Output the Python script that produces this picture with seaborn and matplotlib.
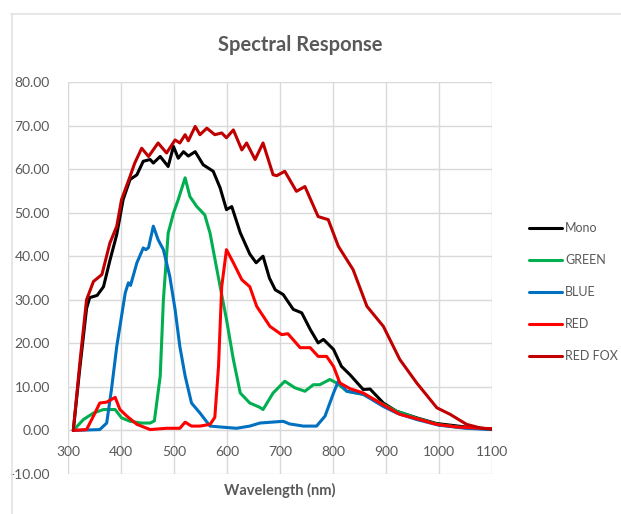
import numpy as np
import pandas as pd
import matplotlib
matplotlib.use("Agg")
import matplotlib.pyplot as plt
from matplotlib.lines import Line2D
import seaborn as sns

series_names = ["Mono", "GREEN", "BLUE", "RED", "RED FOX"]
series_colors = ["#000000", "#00B050", "#0070C0", "#FF0000", "#C00000"]

mono_x = [310, 322, 335, 341, 355, 367, 379, 392, 404, 417, 430, 442, 455, 461, 474, 489, 499, 508, 518, 527, 540, 555, 574, 587, 599, 609, 625, 643, 655, 668, 680, 691, 706, 725, 741, 757, 772, 782, 801, 816, 832, 857, 870, 895, 920, 958, 995, 1050, 1100]
mono_y = [0, 14, 28, 30.5, 31, 33, 39, 45, 53, 57.6, 58.7, 61.8, 62.2, 61.4, 62.9, 60.6, 65.2, 62.5, 64, 63, 64, 61, 59.5, 55.7, 50.7, 51.4, 45.4, 40.5, 38.5, 40, 35, 32.3, 31.2, 27.8, 27, 23.2, 20.1, 20.9, 18.6, 14.7, 12.8, 9.4, 9.5, 6.3, 4.4, 2.9, 1.6, 0.8, 0.3]

green_x = [310, 329, 348, 367, 389, 401, 417, 439, 455, 463, 474, 480, 489, 499, 508, 521, 530, 543, 558, 568, 581, 599, 612, 625, 643, 662, 668, 687, 709, 728, 747, 763, 775, 794, 807, 826, 857, 895, 920, 958, 1000, 1050, 1100]
green_y = [0, 2.5, 4, 4.8, 4.8, 2.9, 2.1, 1.7, 1.7, 2.2, 12.5, 30, 45.3, 49.9, 53, 58, 53.7, 51.4, 49.5, 45.3, 36.9, 25.5, 16.3, 8.6, 6.3, 5.3, 4.8, 8.6, 11.3, 9.8, 9.0, 10.5, 10.5, 11.7, 10.9, 9.0, 8.3, 6.0, 4.4, 2.8, 1.3, 0.6, 0.3]

blue_x = [310, 360, 373, 382, 392, 398, 408, 414, 418, 430, 442, 447, 452, 461, 470, 480, 492, 502, 511, 521, 533, 549, 568, 587, 618, 643, 662, 706, 718, 744, 769, 785, 801, 810, 826, 857, 895, 920, 958, 1000, 1050, 1100]
blue_y = [0, 0.2, 1.7, 9.4, 19.3, 23.9, 31.6, 33.9, 33.3, 38.5, 41.9, 41.5, 42, 46.9, 43.8, 41.5, 35.4, 27.8, 19.3, 12.5, 6.3, 4.0, 1.0, 0.8, 0.5, 1.0, 1.7, 2.1, 1.5, 1.0, 1.0, 3.3, 8.6, 11.3, 9.0, 8.3, 5.5, 4.0, 2.5, 1.2, 0.5, 0.2]

red_x = [310, 335, 348, 360, 373, 389, 398, 411, 430, 455, 486, 511, 521, 533, 549, 568, 577, 584, 590, 599, 612, 628, 643, 656, 681, 703, 715, 738, 757, 772, 788, 801, 813, 832, 857, 889, 926, 964, 995, 1033, 1083, 1100]
red_y = [0, 0.2, 3.3, 6.3, 6.5, 7.6, 4.8, 3.3, 1.4, 0.2, 0.5, 0.5, 1.9, 1.0, 1.0, 1.4, 3.0, 14.7, 33, 41.5, 38.5, 34.6, 33, 28.5, 23.9, 22, 22.2, 19, 19, 17, 17, 14.7, 10.9, 9.6, 8.6, 6.3, 3.7, 2.5, 1.4, 0.8, 0.5, 0.4]

redfox_x = [310, 323, 335, 348, 364, 379, 392, 401, 417, 426, 439, 452, 470, 486, 502, 511, 521, 527, 540, 549, 562, 577, 590, 599, 612, 628, 637, 653, 668, 687, 694, 709, 731, 747, 772, 791, 810, 838, 864, 895, 926, 958, 996, 1021, 1052, 1080, 1100]
redfox_y = [0, 16.3, 30, 34.2, 35.8, 43, 46.9, 53, 58.3, 61.4, 64.8, 62.9, 66, 63.7, 66.7, 66, 67.9, 66.5, 69.8, 67.9, 69.4, 67.9, 68.3, 67.2, 69, 64.4, 66, 62.2, 66, 58.7, 58.5, 59.5, 54.9, 56, 49.1, 48.4, 42.3, 36.9, 28.5, 23.9, 16.3, 10.9, 5.2, 3.7, 1.4, 0.5, 0.3]

x_ticks = [300, 400, 500, 600, 700, 800, 900, 1000, 1100]
y_ticks = [-10, 0, 10, 20, 30, 40, 50, 60, 70, 80]

frames = []
for name, xs, ys in zip(series_names,
                        [mono_x, green_x, blue_x, red_x, redfox_x],
                        [mono_y, green_y, blue_y, red_y, redfox_y]):
    frames.append(pd.DataFrame({"Wavelength": xs, "Response": ys, "Series": name}))
df = pd.concat(frames, ignore_index=True)

sns.set_style("white")
plt.rcParams['font.family'] = ['Lato', 'DejaVu Sans']
grey = "#595959"

fig = plt.figure(figsize=(6.21, 5.14), dpi=100)
ax = fig.add_axes([68/621, 1-474/514, (492-68)/621, (474-82)/514])

sns.lineplot(data=df, x="Wavelength", y="Response", hue="Series",
             hue_order=series_names, palette=series_colors,
             estimator=None, sort=True, linewidth=2.2, ax=ax)

ax.set_xlim(300, 1100)
ax.set_ylim(-10, 80)
ax.set_xticks(x_ticks)
ax.set_xticklabels([str(v) for v in x_ticks])
ax.set_yticks(y_ticks)
ax.set_yticklabels([f"{v:.2f}" for v in y_ticks])
ax.grid(True, color="#D9D9D9", linewidth=1.0)
ax.set_axisbelow(True)
for s in ["top", "right", "left"]:
    ax.spines[s].set_visible(False)
ax.spines["bottom"].set_position(("data", 0))
ax.spines["bottom"].set_color("#D9D9D9")
ax.spines["bottom"].set_zorder(0.5)
ax.tick_params(axis="x", length=0, pad=11, labelsize=10, labelcolor=grey)
ax.tick_params(axis="y", length=0, pad=13, labelsize=10, labelcolor=grey)
ax.set_xlabel("")
ax.set_ylabel("")

fig.text(300/621, 1 - 45/514, "Spectral Response", ha="center", va="center",
         fontsize=14.5, fontweight="bold", color=grey)
fig.text(280/621, 1 - 490/514, "Wavelength (nm)", ha="center", va="center",
         fontsize=10.5, fontweight="bold", color=grey)

handles, labels = ax.get_legend_handles_labels()
if ax.get_legend() is not None:
    ax.get_legend().remove()
leg = fig.legend(handles, labels, loc="center left", bbox_to_anchor=(529/621, 1 - 292/514),
                 frameon=False, fontsize=9, handlelength=2.6, handletextpad=0.3,
                 labelspacing=1.6, borderpad=0, borderaxespad=0)
for t in leg.get_texts():
    t.set_color(grey)

# outer chart border
fig.add_artist(Line2D([11/621, 1], [1 - 13.5/514, 1 - 13.5/514], color="#E3E3E3", lw=1.2, transform=fig.transFigure))
fig.add_artist(Line2D([11.5/621, 11.5/621], [0, 1 - 13.5/514], color="#E3E3E3", lw=1.2, transform=fig.transFigure))

fig.savefig("out.png", dpi=100)
